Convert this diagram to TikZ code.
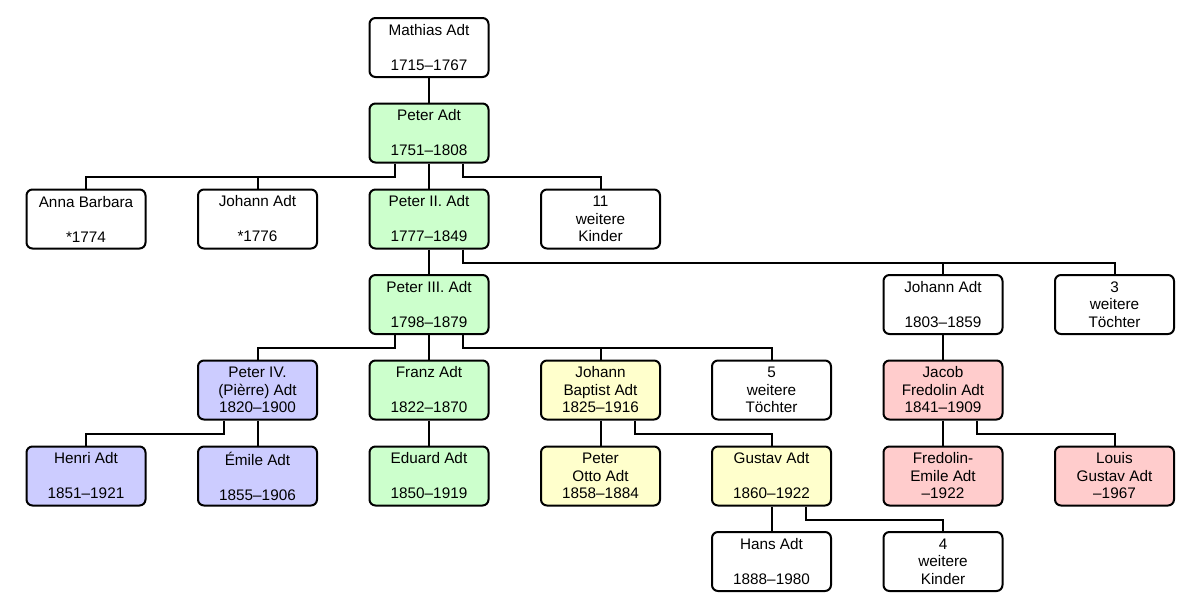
\documentclass[tikz,border=0pt]{standalone}
\usepackage{fontspec}
\setmainfont{Liberation Sans}
\definecolor{cgreen}{HTML}{CCFFCC}
\definecolor{cblue}{HTML}{CCCCFF}
\definecolor{cyellow}{HTML}{FFFFCC}
\definecolor{cpink}{HTML}{FFCCCC}
\begin{document}
\begin{tikzpicture}[x=1pt,y=-1pt,
  person/.style={draw=black, line width=2pt, rounded corners=6pt, fill=white,
    minimum width=119pt, minimum height=59pt, align=center, inner sep=0pt,
    font=\fontsize{15.3}{17.5}\selectfont},
  green/.style={person, fill=cgreen},
  blue/.style={person, fill=cblue},
  yellow/.style={person, fill=cyellow},
  pink/.style={person, fill=cpink},
  link/.style={draw=black, line width=2pt}]
\useasboundingbox (0,0) rectangle (1200,600);
\fill[white] (0,0) rectangle (1200,600);
% columns: 86, 257.5, 429, 600.5, 771.5, 943, 1114.5
% rows: 47, 133, 219, 304, 390, 476, 561
\node[person] (mathias) at (429,47.5) {Mathias Adt\\\mbox{}\\1715–1767};
\node[green] (peter1) at (429,133) {Peter Adt\\\mbox{}\\1751–1808};
\node[person] (anna) at (86,219) {Anna Barbara\\\mbox{}\\*1774};
\node[person] (johann1) at (257.5,219) {Johann Adt\\\mbox{}\\*1776};
\node[green] (peter2) at (429,219) {Peter II. Adt\\\mbox{}\\1777–1849};
\node[person] (kinder11) at (600.5,219) {11\\weitere\\Kinder};
\node[green] (peter3) at (429,304.5) {Peter III. Adt\\\mbox{}\\1798–1879};
\node[person] (johann2) at (943,304.5) {Johann Adt\\\mbox{}\\1803–1859};
\node[person] (toechter3) at (1114.5,304.5) {3\\weitere\\Töchter};
\node[blue] (peter4) at (257.5,390) {Peter IV.\\(Pièrre) Adt\\1820–1900};
\node[green] (franz) at (429,390) {Franz Adt\\\mbox{}\\1822–1870};
\node[yellow] (jbaptist) at (600.5,390) {Johann\\Baptist Adt\\1825–1916};
\node[person] (toechter5) at (771.5,390) {5\\weitere\\Töchter};
\node[pink] (jacob) at (943,390) {Jacob\\Fredolin Adt\\1841–1909};
\node[blue] (henri) at (86,476) {Henri Adt\\\mbox{}\\1851–1921};
\node[blue] (emile) at (257.5,476) {Émile Adt\\\mbox{}\\1855–1906};
\node[green] (eduard) at (429,476) {Eduard Adt\\\mbox{}\\1850–1919};
\node[yellow] (otto) at (600.5,476) {Peter\\Otto Adt\\1858–1884};
\node[yellow] (gustav) at (771.5,476) {Gustav Adt\\\mbox{}\\1860–1922};
\node[pink] (fredemile) at (943,476) {Fredolin-\\Emile Adt\\–1922};
\node[pink] (louis) at (1114.5,476) {Louis\\Gustav Adt\\–1967};
\node[person] (hans) at (771.5,561.5) {Hans Adt\\\mbox{}\\1888–1980};
\node[person] (kinder4) at (943,561.5) {4\\weitere\\Kinder};
% connectors
\begin{scope}[link]
\draw (mathias.south) -- (peter1.north);
\draw ([xshift=-34pt]peter1.south) -- ++(0,13) -| (anna.north);
\draw ([xshift=-34pt]peter1.south) -- ++(0,13) -| (johann1.north);
\draw (peter1.south) -- (peter2.north);
\draw ([xshift=34pt]peter1.south) -- ++(0,13) -| (kinder11.north);
\draw (peter2.south) -- (peter3.north);
\draw ([xshift=34pt]peter2.south) -- ++(0,13) -| (johann2.north);
\draw ([xshift=34pt]peter2.south) -- ++(0,13) -| (toechter3.north);
\draw ([xshift=-34pt]peter3.south) -- ++(0,13) -| (peter4.north);
\draw (peter3.south) -- (franz.north);
\draw ([xshift=34pt]peter3.south) -- ++(0,13) -| (jbaptist.north);
\draw ([xshift=34pt]peter3.south) -- ++(0,13) -| (toechter5.north);
\draw (johann2.south) -- (jacob.north);
\draw ([xshift=-34pt]peter4.south) -- ++(0,13) -| (henri.north);
\draw (peter4.south) -- (emile.north);
\draw (franz.south) -- (eduard.north);
\draw (jbaptist.south) -- (otto.north);
\draw ([xshift=34pt]jbaptist.south) -- ++(0,13) -| (gustav.north);
\draw (jacob.south) -- (fredemile.north);
\draw ([xshift=34pt]jacob.south) -- ++(0,13) -| (louis.north);
\draw (gustav.south) -- (hans.north);
\draw ([xshift=34pt]gustav.south) -- ++(0,13) -| (kinder4.north);
\end{scope}
\end{tikzpicture}
\end{document}
